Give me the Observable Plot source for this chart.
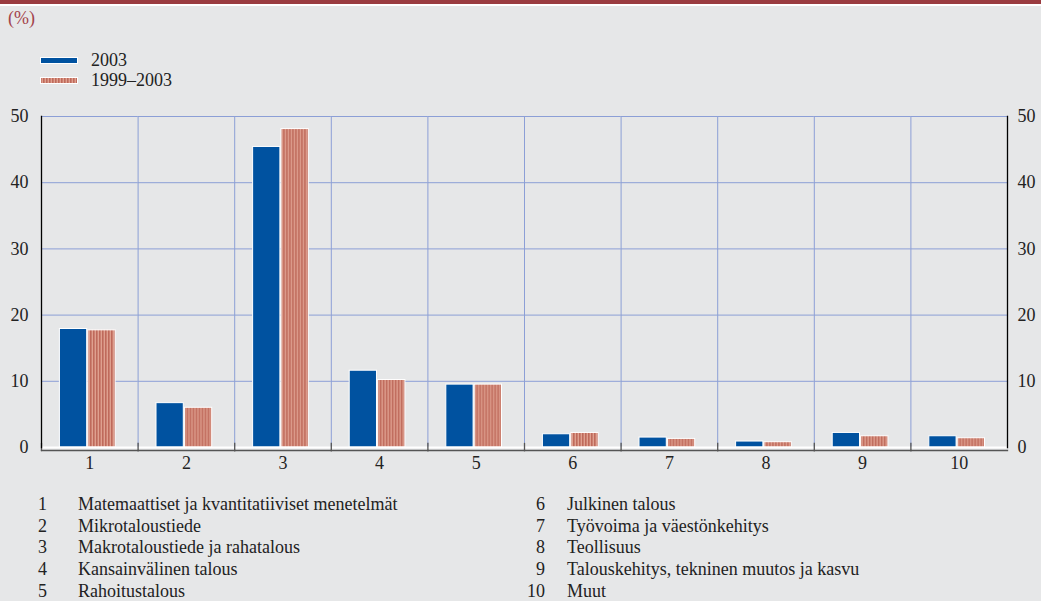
<!DOCTYPE html>
<html>
<head>
<meta charset="utf-8">
<script src="https://cdn.jsdelivr.net/npm/d3@7"></script>
<script src="https://cdn.jsdelivr.net/npm/@observablehq/plot@0.6"></script>
<style>
  html, body { margin:0; padding:0; background:#e6e7e8; }
  #page { position:relative; width:1041px; height:601px; overflow:hidden; background:#e6e7e8;
          font-family:"Liberation Serif", "Times New Roman", "DejaVu Serif", serif; color:#222; font-size:18px; }
  .topbar { position:absolute; left:0; top:0; width:1041px; height:4px; background:#9a3b40; }
  .topline { position:absolute; left:0; top:4px; width:1041px; height:1.5px; background:#fff; }
  .unit { position:absolute; left:8px; top:7px; color:#a3434b; font-size:18px; line-height:22px; }
  .leg { position:absolute; left:40px; height:20px; line-height:20px; }
  .leg svg { position:absolute; left:0; top:7px; }
  .leg span { position:absolute; left:51px; top:0; white-space:nowrap; }
  #chart { position:absolute; left:0; top:100px; }
  .list { position:absolute; top:494px; line-height:21.7px; }
  .list .row { position:relative; height:21.7px; white-space:nowrap; }
  .list .num { position:absolute; text-align:right; }
  .list .txt { position:absolute; }
</style>
</head>
<body>
<svg width="0" height="0" style="position:absolute">
  <defs>
    <pattern id="stripes" patternUnits="userSpaceOnUse" width="3" height="10">
      <rect x="0" y="0" width="3" height="10" fill="#dfa08f"></rect>
      <rect x="0" y="0" width="1.6" height="10" fill="#bf6a5b"></rect>
    </pattern>
  </defs>
</svg>
<div id="page">
  <div class="topbar"></div>
  <div class="topline"></div>
  <div class="unit">(%)</div>
  <div id="legend"></div>
  <div id="chart"></div>
  <div id="list"></div>
</div>
<script>
// ---- data ----
const categories = ["1","2","3","4","5","6","7","8","9","10"];
const series = ["2003", "1999–2003"];
const v2003 = [17.9, 6.7, 45.4, 11.6, 9.5, 2.0, 1.5, 0.9, 2.2, 1.7];
const v19992003 = [17.7, 6.0, 48.1, 10.2, 9.5, 2.2, 1.3, 0.8, 1.7, 1.4];
const yTicks = [0, 10, 20, 30, 40, 50];
const categoryNames = [
  "Matemaattiset ja kvantitatiiviset menetelmät",
  "Mikrotaloustiede",
  "Makrotaloustiede ja rahatalous",
  "Kansainvälinen talous",
  "Rahoitustalous",
  "Julkinen talous",
  "Työvoima ja väestönkehitys",
  "Teollisuus",
  "Talouskehitys, tekninen muutos ja kasvu",
  "Muut"
];

const blue = "#0052a0";
const stripeKey = "#c8776a";
const gridColor = "#8c9fd6";
const font = "'Liberation Serif', 'Times New Roman', 'DejaVu Serif', serif";

const rows = categories.flatMap((c, i) => [
  {cat: c, series: series[0], value: v2003[i]},
  {cat: c, series: series[1], value: v19992003[i]}
]);

const chart = Plot.plot({
  width: 1041,
  height: 381,
  marginTop: 16,
  marginBottom: 34,
  marginLeft: 41,
  marginRight: 34,
  style: {background: "transparent", fontFamily: font, fontSize: "18px", color: "#222"},
  fx: {domain: categories, padding: 0, label: null, round: false},
  x: {domain: series, paddingInner: 0.04, paddingOuter: 0.72, align: 0.45, axis: null, round: false},
  y: {domain: [0, 50], axis: null, label: null},
  marks: [
    Plot.frame({anchor: "left", stroke: gridColor}),
    Plot.gridY(yTicks.slice(1), {stroke: gridColor, strokeOpacity: 1}),
    Plot.barY(rows.filter(d => d.series === series[0]), {fx: "cat", x: "series", y: "value", fill: blue, stroke: "white", strokeWidth: 1}),
    Plot.barY(rows.filter(d => d.series === series[1]), {fx: "cat", x: "series", y: "value", fill: stripeKey, stroke: "white", strokeWidth: 1}),
    Plot.ruleY([0], {stroke: "white", strokeWidth: 2}),
    Plot.frame({anchor: "bottom", stroke: "#555", strokeWidth: 1.3, insetBottom: -3}),
    Plot.frame({anchor: "left", stroke: "#555", strokeWidth: 1.3, insetTop: 327, insetBottom: -3}),
    Plot.axisY(yTicks, {anchor: "left", tickSize: 0, tickPadding: 13, fontSize: 18, label: null}),
    Plot.axisY(yTicks, {anchor: "right", tickSize: 0, tickPadding: 10, fontSize: 18, label: null}),
    Plot.frame({anchor: "left", stroke: "black", strokeWidth: 1.3, facetAnchor: "left"}),
    Plot.frame({anchor: "right", stroke: "black", strokeWidth: 1.3, facetAnchor: "right"}),
    Plot.axisFx({anchor: "bottom", tickSize: 0, tickPadding: 9, label: null, fontSize: 18})
  ]
});
chart.querySelectorAll(`[fill="${stripeKey}"]`).forEach(el => el.setAttribute("fill", "url(#stripes)"));
document.getElementById("chart").appendChild(chart);

// legend
const legend = document.getElementById("legend");
series.forEach((s, i) => {
  const d = document.createElement("div");
  d.className = "leg";
  d.style.top = (50 + i * 20) + "px";
  const fill = i === 0 ? blue : "url(#stripes)";
  d.innerHTML = `<svg width="38" height="7"><rect x="0.5" y="0.5" width="37" height="6" fill="${fill}" stroke="white" stroke-width="1"></rect></svg><span>${s}</span>`;
  legend.appendChild(d);
});

// category list
const list = document.getElementById("list");
[[0, 47, 78], [5, 545, 567]].forEach(([start, numRight, txtLeft]) => {
  const col = document.createElement("div");
  col.className = "list";
  col.style.left = "0px";
  col.style.width = "1041px";
  for (let i = start; i < start + 5; i++) {
    const r = document.createElement("div");
    r.className = "row";
    r.innerHTML = `<span class="num" style="right:${1041 - numRight}px">${categories[i]}</span><span class="txt" style="left:${txtLeft}px">${categoryNames[i]}</span>`;
    col.appendChild(r);
  }
  list.appendChild(col);
});
</script>
</body>
</html>
